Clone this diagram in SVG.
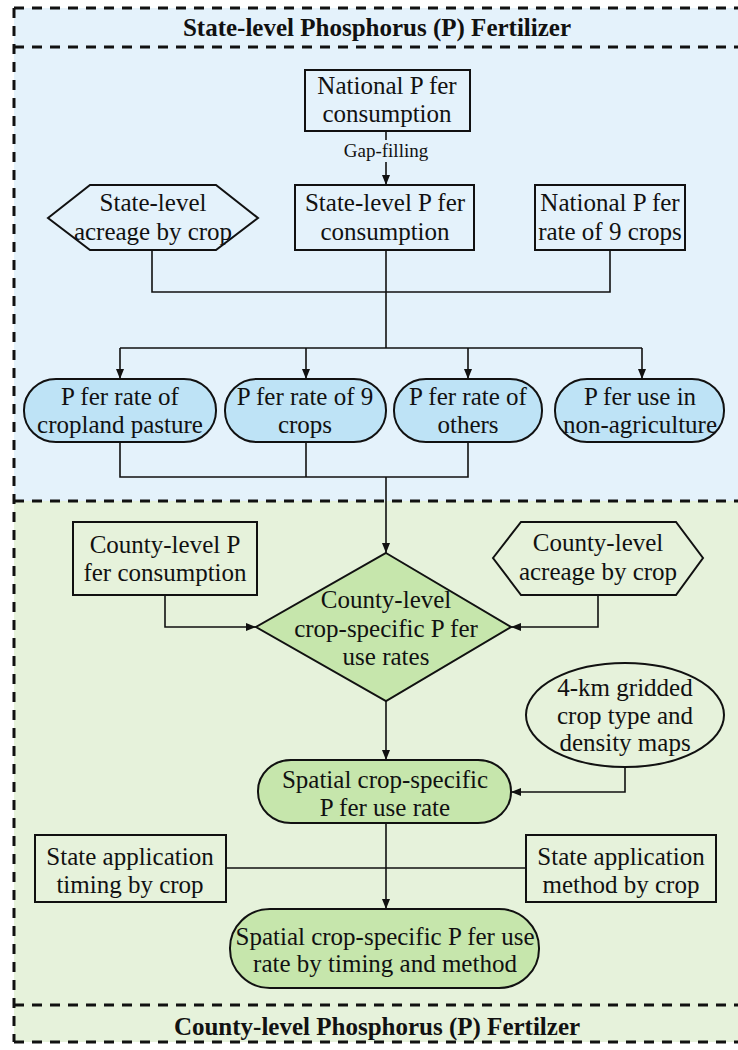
<svg xmlns="http://www.w3.org/2000/svg" width="738" height="1050" viewBox="0 0 738 1050">
<defs>
<style>
text{font-family:'Liberation Serif','Times New Roman',serif;fill:#111;text-anchor:middle}
.t{font-size:25px}
.title{font-size:25px;font-weight:bold}
.small{font-size:19px}
.box{fill:none;stroke:#111;stroke-width:2}
.bluefill{fill:#BEE3F6;stroke:#111;stroke-width:2}
.greenfill{fill:#C6E6AC;stroke:#111;stroke-width:2}
.dash{stroke:#111;stroke-width:3;stroke-dasharray:10 8;fill:none}
.c{fill:none;stroke:#111;stroke-width:1.6}
</style>
<marker id="arr" markerUnits="userSpaceOnUse" markerWidth="10" markerHeight="10" refX="10" refY="4" orient="auto">
<path d="M0,0 L10,4 L0,8 z" fill="#111"/>
</marker>
</defs>
<rect x="0" y="0" width="738" height="1050" fill="#fff"/>
<g id="panels">
<rect x="14" y="8" width="724" height="493" fill="#E4F2FB"/>
<rect x="14" y="501" width="724" height="541" fill="#E6F2DB"/>
<line class="dash" x1="14" y1="8" x2="738" y2="8"/>
<line class="dash" x1="14" y1="47" x2="738" y2="47"/>
<line class="dash" x1="14" y1="501" x2="738" y2="501"/>
<line class="dash" x1="14" y1="1005" x2="738" y2="1005"/>
<line class="dash" x1="14" y1="1042" x2="738" y2="1042"/>
<line class="dash" x1="14" y1="8" x2="14" y2="1042"/>
<text class="title" x="377" y="36">State-level Phosphorus (P) Fertilizer</text>
<text class="title" x="377" y="1035">County-level Phosphorus (P) Fertilzer</text>
</g>
<g id="connectors">
<line class="c" x1="386" y1="131" x2="386" y2="140"/>
<text class="small" x="386" y="157">Gap-filling</text>
<line class="c" x1="386" y1="162" x2="386" y2="185" marker-end="url(#arr)"/>
<polyline class="c" points="152,250 152,292 610,292 610,250"/>
<line class="c" x1="386" y1="250" x2="386" y2="348"/>
<line class="c" x1="120" y1="348" x2="642" y2="348"/>
<line class="c" x1="120" y1="348" x2="120" y2="379" marker-end="url(#arr)"/>
<line class="c" x1="306" y1="348" x2="306" y2="379" marker-end="url(#arr)"/>
<line class="c" x1="468" y1="348" x2="468" y2="379" marker-end="url(#arr)"/>
<line class="c" x1="642" y1="348" x2="642" y2="379" marker-end="url(#arr)"/>
<polyline class="c" points="120,442 120,477 468,477 468,442"/>
<line class="c" x1="306" y1="442" x2="306" y2="477"/>
<line class="c" x1="386" y1="477" x2="386" y2="553" marker-end="url(#arr)"/>
<polyline class="c" points="165,595 165,627 256,627" marker-end="url(#arr)"/>
<polyline class="c" points="598,595 598,627 511,627" marker-end="url(#arr)"/>
<line class="c" x1="386" y1="701" x2="386" y2="760" marker-end="url(#arr)"/>
<polyline class="c" points="625,767 625,792 511,792" marker-end="url(#arr)"/>
<line class="c" x1="226" y1="868" x2="526" y2="868"/>
<line class="c" x1="386" y1="823" x2="386" y2="909" marker-end="url(#arr)"/>
</g>
<g id="national-consumption">
<rect class="box" x="305" y="70" width="165" height="61"/>
<text class="t" x="387" y="94">National P fer</text>
<text class="t" x="387" y="122">consumption</text>
</g>
<g id="state-acreage">
<polygon class="box" points="48,218 90,185 216,185 258,218 216,250 90,250"/>
<text class="t" x="153" y="211">State-level</text>
<text class="t" x="153" y="240">acreage by crop</text>
</g>
<g id="state-consumption">
<rect class="box" x="295" y="185" width="179" height="65"/>
<text class="t" x="385" y="211">State-level P fer</text>
<text class="t" x="385" y="240">consumption</text>
</g>
<g id="national-rate">
<rect class="box" x="535" y="185" width="150" height="65"/>
<text class="t" x="610" y="211">National P fer</text>
<text class="t" x="610" y="240">rate of 9 crops</text>
</g>
<g id="rate-pasture">
<rect class="bluefill" x="24" y="379" width="192" height="63" rx="32" ry="31"/>
<text class="t" x="120" y="405">P fer rate of</text>
<text class="t" x="120" y="433">cropland pasture</text>
</g>
<g id="rate-9crops">
<rect class="bluefill" x="225" y="379" width="161" height="63" rx="32" ry="31"/>
<text class="t" x="305" y="405">P fer rate of 9</text>
<text class="t" x="305" y="433">crops</text>
</g>
<g id="rate-others">
<rect class="bluefill" x="394" y="379" width="148" height="63" rx="32" ry="31"/>
<text class="t" x="468" y="405">P fer rate of</text>
<text class="t" x="468" y="433">others</text>
</g>
<g id="non-agriculture">
<rect class="bluefill" x="555" y="379" width="169" height="63" rx="32" ry="31"/>
<text class="t" x="640" y="405">P fer use in</text>
<text class="t" x="640" y="433">non-agriculture</text>
</g>
<g id="county-consumption">
<rect class="box" x="73" y="522" width="184" height="73"/>
<text class="t" x="165" y="553">County-level P</text>
<text class="t" x="165" y="581">fer consumption</text>
</g>
<g id="county-acreage">
<polygon class="box" points="493,558 521,522 676,522 703,558 676,595 521,595"/>
<text class="t" x="598" y="551">County-level</text>
<text class="t" x="598" y="580">acreage by crop</text>
</g>
<g id="county-rates">
<polygon class="greenfill" points="386,553 511,627 386,701 256,627"/>
<text class="t" x="386" y="608">County-level</text>
<text class="t" x="386" y="637">crop-specific P fer</text>
<text class="t" x="386" y="665">use rates</text>
</g>
<g id="gridded-maps">
<ellipse class="box" cx="625" cy="715" rx="99" ry="52"/>
<text class="t" x="625" y="696">4-km gridded</text>
<text class="t" x="625" y="724">crop type and</text>
<text class="t" x="625" y="751">density maps</text>
</g>
<g id="spatial-rate">
<rect class="greenfill" x="258" y="760" width="253" height="63" rx="33" ry="31"/>
<text class="t" x="385" y="788">Spatial crop-specific</text>
<text class="t" x="385" y="816">P fer use rate</text>
</g>
<g id="timing">
<rect class="box" x="35" y="835" width="191" height="67"/>
<text class="t" x="130" y="865">State application</text>
<text class="t" x="130" y="893">timing by crop</text>
</g>
<g id="method">
<rect class="box" x="526" y="835" width="190" height="67"/>
<text class="t" x="621" y="865">State application</text>
<text class="t" x="621" y="893">method by crop</text>
</g>
<g id="spatial-timing-method">
<rect class="greenfill" x="230" y="909" width="309" height="79" rx="40" ry="39"/>
<text class="t" x="385" y="945">Spatial crop-specific P fer use</text>
<text class="t" x="385" y="972">rate by timing and method</text>
</g>
</svg>
